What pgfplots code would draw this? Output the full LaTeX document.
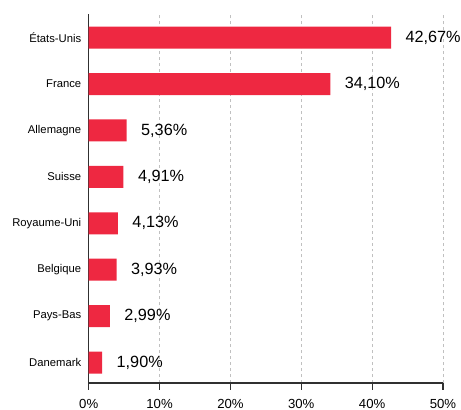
\documentclass[border=0pt]{standalone}
\usepackage{pgfplots}
\pgfplotsset{compat=1.18}
\usepackage{pgfplotstable}
\usepackage{fontspec}
\setmainfont{Liberation Sans}
\definecolor{barred}{HTML}{EE2841}
\definecolor{axgray}{HTML}{303030}
\definecolor{gridgray}{HTML}{C0C0C0}
\pgfplotstableread{
idx val
0 1.90
1 2.99
2 3.93
3 4.13
4 4.91
5 5.36
6 34.10
7 42.67
}\datatable
\begin{document}
\begin{tikzpicture}
\begin{axis}[
  scale only axis,
  width=354.3bp, height=369bp,
  xmin=0, xmax=50,
  ymin=-0.44, ymax=7.51,
  axis lines*=left,
  axis line style={axgray, line width=1.3bp},
  xtick={0,10,20,30,40,50},
  xticklabels={0\%,10\%,20\%,30\%,40\%,50\%},
  xticklabel style={font=\fontsize{13.2}{15}\selectfont, yshift=-6bp},
  x tick style={axgray, line width=1.2bp},
  xtick align=outside,
  major tick length=7bp,
  ytick={0,1,2,3,4,5,6,7},
  yticklabels={Danemark,Pays-Bas,Belgique,Royaume-Uni,Suisse,Allemagne,France,États-Unis},
  yticklabel style={font=\fontsize{11.3}{13}\selectfont, xshift=3bp},
  y tick style={draw=none},
  xmajorgrids,
  grid style={gridgray, dashed, line width=0.8bp},
  xbar,
  bar width=22bp,
  nodes near coords={\pgfmathprintnumber[fixed,fixed zerofill,precision=2,use comma,assume math mode=true]{\pgfplotspointmeta}\%},
  point meta=x,
  nodes near coords style={font=\fontsize{16.3}{18}\selectfont, anchor=west, xshift=11bp},
  clip=false,
]
\addplot[fill=barred, draw=none] table[x=val, y=idx] {\datatable};
\end{axis}
\pgfresetboundingbox
\path (current axis.south west) ++(-88.7bp,-27bp) coordinate (bbl);
\path (current axis.south west) ++(372.3bp,383bp) coordinate (btr);
\path (bbl) rectangle (btr);
\end{tikzpicture}
\end{document}
